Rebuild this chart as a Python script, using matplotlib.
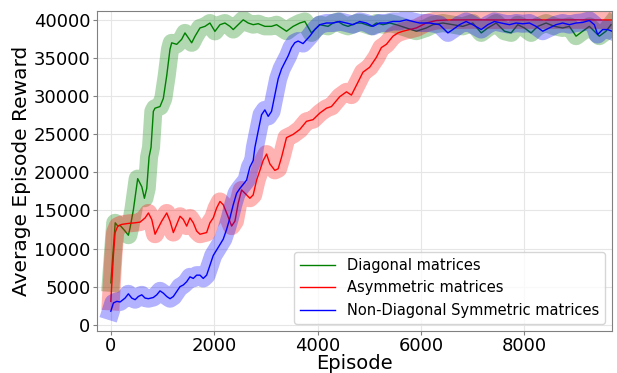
import numpy as np
import matplotlib
matplotlib.use('Agg')
import matplotlib.pyplot as plt

# Diagonal matrices
x_diag = [0, 85, 135, 180, 275, 340, 372, 437, 520, 600, 650, 695, 740, 778, 823, 855, 952, 1016,
          1082, 1145, 1178, 1275, 1370, 1435, 1500, 1565, 1630, 1725, 1822, 1918, 2015, 2112, 2208,
          2305, 2369, 2465, 2562, 2658, 2755, 2852, 2981, 3110, 3207, 3304, 3400, 3528, 3657, 3754,
          3883, 4043, 4204, 4300, 4397, 4494, 4590, 4753, 4850, 4946, 5043, 5140, 5267, 5396, 5525,
          5718, 5912, 6105, 6233, 6426, 6619, 6812, 7005, 7168, 7295, 7457, 7618, 7747, 7875, 8004,
          8133, 8261, 8423, 8584, 8744, 8874, 9003, 9131, 9260, 9453, 9582, 9680]
y_diag = [5500, 13380, 12950, 13040, 12300, 11750, 12700, 15100, 19180, 18100, 16600, 17900, 22000,
          23270, 28000, 28420, 28640, 29700, 32700, 36150, 37000, 36800, 37450, 38300, 37660, 37000,
          37870, 38950, 39160, 39600, 38500, 39380, 39600, 39160, 38740, 39380, 40020, 39600, 39380,
          39510, 39160, 39160, 39380, 38950, 38520, 39160, 39600, 39800, 38300, 39380, 39160, 39600,
          39800, 39380, 39160, 39600, 39600, 39380, 39160, 39600, 39380, 39600, 39380, 38950, 38520,
          38950, 39380, 39600, 39380, 39160, 39600, 38300, 38950, 39600, 38520, 38300, 39380, 38950,
          38300, 39160, 39600, 39160, 38950, 39160, 37870, 38520, 39160, 37870, 38520, 39380]

# Asymmetric matrices
x_asym = [0, 50, 83, 135, 212, 340, 470, 566, 663, 727, 792, 856, 920, 985, 1082, 1146, 1210, 1275,
          1339, 1403, 1468, 1532, 1596, 1661, 1725, 1854, 1918, 1982, 2047, 2112, 2176, 2241, 2338,
          2402, 2466, 2531, 2628, 2691, 2755, 2821, 2885, 2948, 3014, 3078, 3174, 3238, 3304, 3400,
          3528, 3657, 3787, 3914, 4044, 4173, 4270, 4430, 4560, 4656, 4753, 4880, 5010, 5139, 5236,
          5332, 5460, 5557, 5653, 5782, 5912, 6105, 6298, 6500, 7000, 7500, 8000, 8500, 9000, 9500,
          9700]
y_asym = [3070, 9090, 12100, 12950, 13170, 13300, 13380, 13470, 14020, 14670, 13820, 11880, 12740,
          13600, 14670, 13600, 12100, 13170, 14240, 13820, 12950, 14020, 13380, 12300, 11880, 12100,
          13380, 14020, 15310, 16180, 15750, 14670, 12950, 13600, 15960, 17690, 17040, 16600, 17040,
          18980, 20260, 21550, 22400, 21110, 20260, 20470, 21980, 24560, 24980, 25630, 26700, 26920,
          27780, 28420, 28640, 29930, 30570, 30140, 31430, 33150, 33800, 35090, 36380, 36800, 37870,
          38300, 38520, 38740, 38950, 39600, 39930, 40000, 40020, 40000, 40020, 40000, 40020, 40000,
          40000]

# Non-Diagonal Symmetric matrices
x_sym = [0, 50, 116, 180, 276, 340, 405, 470, 533, 599, 663, 727, 823, 889, 952, 1016, 1082, 1146,
         1210, 1275, 1339, 1403, 1468, 1532, 1596, 1661, 1725, 1789, 1854, 1918, 1982, 2079, 2176,
         2241, 2305, 2369, 2434, 2498, 2627, 2691, 2755, 2788, 2852, 2917, 2981, 3046, 3110, 3174,
         3239, 3304, 3368, 3432, 3497, 3561, 3625, 3720, 3850, 3947, 4044, 4173, 4300, 4430, 4560,
         4687, 4817, 4946, 5074, 5203, 5332, 5460, 5589, 5718, 5847, 5976, 6169, 6362, 6523, 6619,
         6748, 6877, 7005, 7168, 7295, 7425, 7554, 7714, 7844, 7972, 8101, 8230, 8358, 8487, 8616,
         8744, 8874, 9003, 9131, 9260, 9357, 9421, 9518, 9615, 9700]
y_sym = [1780, 2860, 3070, 2990, 3500, 4060, 3500, 3290, 3710, 3930, 3500, 3420, 3580, 3930, 4450,
         4150, 3710, 3420, 3710, 4360, 5000, 5220, 5650, 6290, 6080, 6510, 6510, 6080, 6510, 7800,
         9090, 10160, 11240, 12530, 14020, 15750, 17250, 17890, 18980, 20690, 21550, 23270, 25420,
         27560, 28200, 27350, 28000, 30140, 32290, 33580, 34440, 35290, 36380, 37020, 37230, 36900,
         37870, 38740, 39380, 39600, 39600, 39800, 39600, 39380, 39800, 39600, 39160, 39600, 39600,
         39800, 39800, 40020, 39800, 39600, 39600, 39380, 38300, 38740, 39380, 39800, 39380, 38740,
         39380, 39800, 39600, 39380, 39600, 39500, 39600, 39160, 38520, 38950, 39380, 39600, 39380,
         39600, 39680, 39930, 39380, 38090, 38740, 38740, 38520]

labels = ['Diagonal matrices', 'Asymmetric matrices', 'Non-Diagonal Symmetric matrices']
colors = ['green', 'red', 'blue']
xticks = [0, 2000, 4000, 6000, 8000]
yticks = [0, 5000, 10000, 15000, 20000, 25000, 30000, 35000, 40000]

fig, ax = plt.subplots(figsize=(6.17, 3.73), dpi=100)

for xs, ys, lab, c in zip([x_diag, x_asym, x_sym], [y_diag, y_asym, y_sym], labels, colors):
    ax.plot(xs, ys, color=c, linewidth=1, label=lab)
    ax.plot(xs, ys, color=c, linewidth=13, alpha=0.3)

ax.set_xlim(-270, 9700)
ax.set_ylim(-800, 41200)
ax.set_xticks(xticks)
ax.set_yticks(yticks)
ax.grid(True, color='#e6e6e6', linewidth=0.8)
for s in ax.spines.values():
    s.set_color('#808080')
ax.tick_params(labelsize=13, color='#808080', length=3, pad=1.5)
ax.set_xlabel('Episode', fontsize=14, labelpad=-1)
ax.set_ylabel('Average Episode Reward', fontsize=14.5, labelpad=2)
ax.legend(loc='lower right', fontsize=10.5, handlelength=2.4)

plt.subplots_adjust(left=0.157, right=0.992, top=0.971, bottom=0.113)
plt.savefig('out.png', dpi=100)
